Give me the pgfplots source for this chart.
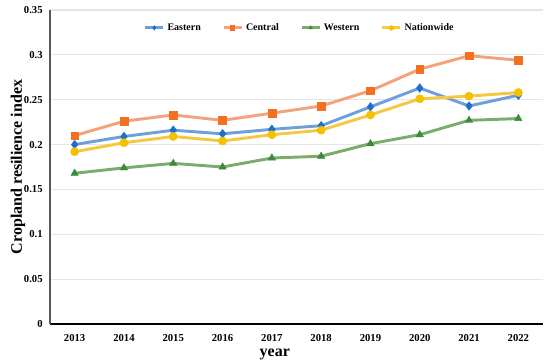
\documentclass[border=0pt]{standalone}
\usepackage{pgfplots}
\pgfplotsset{compat=1.18}
\usepackage{fontspec}
\setmainfont{Liberation Serif}
\definecolor{eline}{HTML}{6F9FD8}
\definecolor{emark}{HTML}{1A6FCF}
\definecolor{cline}{HTML}{F4A27A}
\definecolor{cmark}{HTML}{F37021}
\definecolor{wline}{HTML}{7AAD6B}
\definecolor{wmark}{HTML}{3A8A3A}
\definecolor{nline}{HTML}{F5C842}
\definecolor{nmark}{HTML}{F5C000}
\begin{document}
\begin{tikzpicture}
\begin{axis}[
  name=ax,
  scale only axis,
  width=369.75pt, height=235.5pt,
  xmin=-0.5, xmax=9.5, ymin=0, ymax=0.35,
  xtick={0,...,9},
  xticklabels={2013,2014,2015,2016,2017,2018,2019,2020,2021,2022},
  ytick={0,0.05,...,0.35},
  yticklabels={0,0.05,0.1,0.15,0.2,0.25,0.3,0.35},
  major tick length=0pt,
  axis x line*=bottom, axis y line*=left,
  x axis line style={black, line width=1.5pt, -},
  y axis line style={gray!70!black, line width=1pt, -},
  ymajorgrids, grid style={gray!20, line width=0.8pt},
  tick label style={font=\bfseries\fontsize{8}{9}\selectfont},
  xticklabel style={yshift=-4pt},
  yticklabel style={xshift=-2pt},
  /pgf/number format/assume math mode=true,
  xlabel={\textbf{year}},
  ylabel={\textbf{Cropland resilience index}},
  label style={font=\bfseries\fontsize{12}{14}\selectfont},
  xlabel style={at={(axis description cs:0.456,0)}, anchor=north, yshift=-15.5pt},
  ylabel style={at={(axis description cs:-0.065,0.5)}, anchor=center},
  legend style={draw=none, fill=none, at={(0.507,0.943)}, anchor=center,
    legend columns=4, font=\bfseries\fontsize{7.5}{9}\selectfont,
    /tikz/every even column/.append style={column sep=14pt}},
  legend image code/.code={
    \draw[#1, mark=none] (0cm,0cm) -- (0.48cm,0cm);
    \draw[#1, draw opacity=0, mark size=2pt] plot coordinates {(0.24cm,0cm)};
  },
]
\addplot[eline, line width=2.2pt, mark=diamond*, mark size=3.3pt, mark options={fill=emark, draw=emark, line width=0.3pt}]
  coordinates {(0,0.200)(1,0.209)(2,0.216)(3,0.212)(4,0.217)(5,0.221)(6,0.242)(7,0.263)(8,0.243)(9,0.255)};
\addlegendentry{Eastern}
\addplot[cline, line width=2.2pt, mark=square*, mark size=2.9pt, mark options={fill=cmark, draw=cmark, line width=0.3pt}]
  coordinates {(0,0.210)(1,0.226)(2,0.233)(3,0.227)(4,0.235)(5,0.243)(6,0.260)(7,0.284)(8,0.299)(9,0.294)};
\addlegendentry{Central}
\addplot[wline, line width=2.2pt, mark=triangle*, mark size=3.2pt, mark options={fill=wmark, draw=wmark, line width=0.3pt}]
  coordinates {(0,0.168)(1,0.174)(2,0.179)(3,0.175)(4,0.185)(5,0.187)(6,0.201)(7,0.211)(8,0.227)(9,0.229)};
\addlegendentry{Western}
\addplot[nline, line width=2.2pt, mark=*, mark size=3.1pt, mark options={fill=nmark, draw=nmark, line width=0.3pt}]
  coordinates {(0,0.192)(1,0.202)(2,0.209)(3,0.204)(4,0.211)(5,0.216)(6,0.233)(7,0.251)(8,0.254)(9,0.258)};
\addlegendentry{Nationwide}
\end{axis}
\pgfresetboundingbox
\path ([xshift=-37.5pt,yshift=-29.25pt]ax.south west) rectangle ([xshift=5.25pt,yshift=7.5pt]ax.north east);
\end{tikzpicture}
\end{document}
